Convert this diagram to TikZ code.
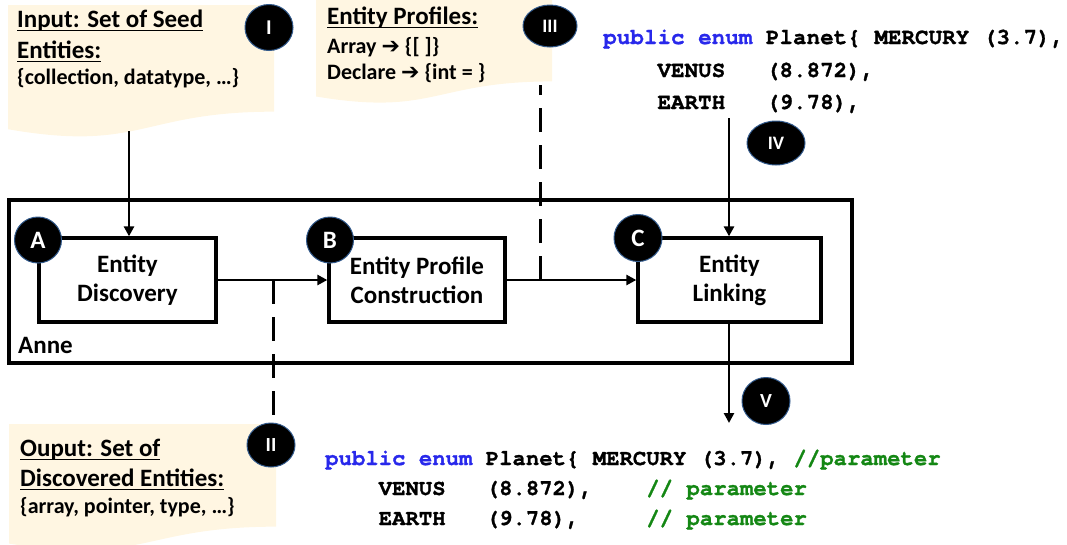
\documentclass[tikz,border=0pt]{standalone}
\usepackage{fontspec}
\setmainfont{Carlito}
\newfontfamily\codefont{texgyrecursor}[Extension=.otf, UprightFont=*-regular,
  BoldFont=*-bold, BoldFeatures={FakeBold=1.2}]
\newfontfamily\symfont{DejaVu Sans}
\usetikzlibrary{arrows.meta,shapes.geometric}

\definecolor{notecream}{RGB}{255,246,226}
\definecolor{badgeedge}{RGB}{50,90,140}
\definecolor{kwblue}{RGB}{40,40,235}
\definecolor{cmtgreen}{RGB}{20,135,20}

% underline drawn as a rule a little below the baseline
\newcommand\undl[1]{\setbox0\hbox{#1}\rlap{\rule[-4.2pt]{\wd0}{1.6pt}}\box0}
\newcommand\rarr{{\symfont\char"2794}}

\tikzset{
  x=1pt, y=-1pt,
  heading/.style={anchor=base west, inner sep=0pt, font=\fontsize{25}{30}\selectfont\bfseries},
  body/.style={anchor=base west, inner sep=0pt, font=\fontsize{22}{26}\selectfont\bfseries},
  stepbox/.style={draw, line width=3.3pt, align=center, inner sep=0pt,
    font=\fontsize{25}{29}\selectfont\bfseries},
  badge/.style={ellipse, fill=black, draw=badgeedge, line width=1pt, text=white,
    inner sep=0pt, font=\fontsize{21}{24}\selectfont\bfseries},
  code/.style={anchor=base west, inner sep=0pt, font=\fontsize{22.6}{26}\selectfont\codefont\bfseries},
  flow/.style={line width=2.9pt, -{Triangle[length=10pt,width=10pt]}},
  dashline/.style={line width=3pt, dash pattern=on 24pt off 13pt},
}

% a sheet with a wavy lower edge: #1 left, #2 right, #3 top, #4 height
\newcommand\docsheet[4]{%
  \fill[notecream] (#1,#3) -- (#2,#3) -- (#2,{#3+0.802*#4})
    .. controls ({(#1+#2)/2},{#3+0.802*#4}) and ({(#1+#2)/2},{#3+1.108*#4})
    .. (#1,{#3+0.934*#4}) -- cycle;}

\begin{document}
\begin{tikzpicture}
\useasboundingbox (0,0) rectangle (1067,544);

% ---- sheets -------------------------------------------------------------
\docsheet{8}{274}{5}{133}
\docsheet{316}{552}{-10}{114}
\docsheet{9}{276}{424}{128}

% sheet I text
\node[heading] (inA) at (17,27) {\undl{Input: Set of Seed}};
\node[heading] (inB) at (17,58) {\undl{Entities:}};
\node[body]    (inC) at (17,84) {\{collection, datatype, …\}};

% sheet III text
\node[heading] (prA) at (327,24) {\undl{Entity Profiles:}};
\node[body]    (prB) at (327,53) {Array \rarr{} \{[ ]\}};
\node[body]    (prC) at (327,79) {Declare \rarr{} \{int = \}};

% sheet II text
\node[heading] (outA) at (20,456) {\undl{Ouput: Set of}};
\node[heading] (outB) at (20,486) {\undl{Discovered Entities:}};
\node[body]    (outC) at (20,513) {\{array, pointer, type, …\}};

% ---- code fragments -----------------------------------------------------
\node[code] (topA) at (603,44) {\textcolor{kwblue}{public enum} Planet\{ MERCURY (3.7),};
\node[code] (topB) at (603,77) {\phantom{xxxx}VENUS\ \ \ (8.872),};
\node[code] (topC) at (603,109) {\phantom{xxxx}EARTH\ \ \ (9.78),};

\begin{scope}[code/.append style={font=\fontsize{22.3}{26}\selectfont\codefont\bfseries}]
\node[code] (botA) at (325,465) {\textcolor{kwblue}{public enum} Planet\{ MERCURY (3.7), \textcolor{cmtgreen}{//parameter}};
\node[code] (botB) at (325,495) {\phantom{xxxx}VENUS\ \ \ (8.872),\ \ \ \ \textcolor{cmtgreen}{// parameter}};
\node[code] (botC) at (325,525) {\phantom{xxxx}EARTH\ \ \ (9.78),\ \ \ \ \ \textcolor{cmtgreen}{// parameter}};
\end{scope}

% ---- Anne ---------------------------------------------------------------
\node[draw, line width=3.3pt, minimum width=843pt, minimum height=163pt, inner sep=0pt]
  (anne) at (430.5,281.5) {};
\node[anchor=base west, inner sep=0pt, font=\fontsize{25}{29}\selectfont\bfseries]
  (anneLbl) at (18,353) {Anne};

\node[stepbox, minimum width=177pt, minimum height=84pt] (disc) at (127.5,280)
  {Entity\\Discovery};
\node[stepbox, minimum width=176pt, minimum height=84pt] (prof) at (417,280)
  {Entity Profile\\Construction};
\node[stepbox, minimum width=183pt, minimum height=84pt] (link) at (729.5,280)
  {Entity\\Linking};

% ---- connectors ---------------------------------------------------------
\coordinate (seedEnd) at (129,131);
\coordinate (codeEnd) at (729,118);
\coordinate (outEnd)  at (729,423);
\coordinate (tapII)   at (273,280);
\coordinate (tapIII)  at (540,280);
\coordinate (profEnd) at (540,85);
\coordinate (discEnd) at (273,430);

\draw[flow] (seedEnd) -- (disc.north -| seedEnd);
\draw[flow] (disc.east) -- (prof.west);
\draw[flow] (prof.east) -- (link.west);
\draw[flow] (codeEnd) -- (link.north -| codeEnd);
\draw[flow] (link.south -| outEnd) -- (outEnd);
\draw[dashline] (tapII) -- (discEnd);
\draw[dashline] (tapIII) -- (profEnd);

% ---- badges -------------------------------------------------------------
\node[badge, minimum width=48pt, minimum height=46pt] (bI)   at (269,27.5) {I};
\node[badge, minimum width=54pt, minimum height=42pt, font=\fontsize{19}{22}\selectfont\bfseries] (bIII) at (550,26) {III};
\node[badge, minimum width=58pt, minimum height=44pt, font=\fontsize{19}{22}\selectfont\bfseries] (bIV)  at (776,143) {IV};
\node[badge, minimum width=48pt, minimum height=44pt, font=\fontsize{20}{22}\selectfont\bfseries] (bII)  at (271,445) {II};
\node[badge, minimum width=48pt, minimum height=47pt, font=\fontsize{20}{22}\selectfont\bfseries] (bV)   at (766,401) {V};

\node[badge, minimum width=47pt, minimum height=46pt, font=\fontsize{25}{28}\selectfont\bfseries] (bA) at (38,240) {A};
\node[badge, minimum width=47pt, minimum height=46pt, font=\fontsize{25}{28}\selectfont\bfseries] (bB) at (330,240) {B};
\node[badge, minimum width=48pt, minimum height=47pt, font=\fontsize{25}{28}\selectfont\bfseries] (bC) at (638,238) {C};
\end{tikzpicture}
\end{document}
